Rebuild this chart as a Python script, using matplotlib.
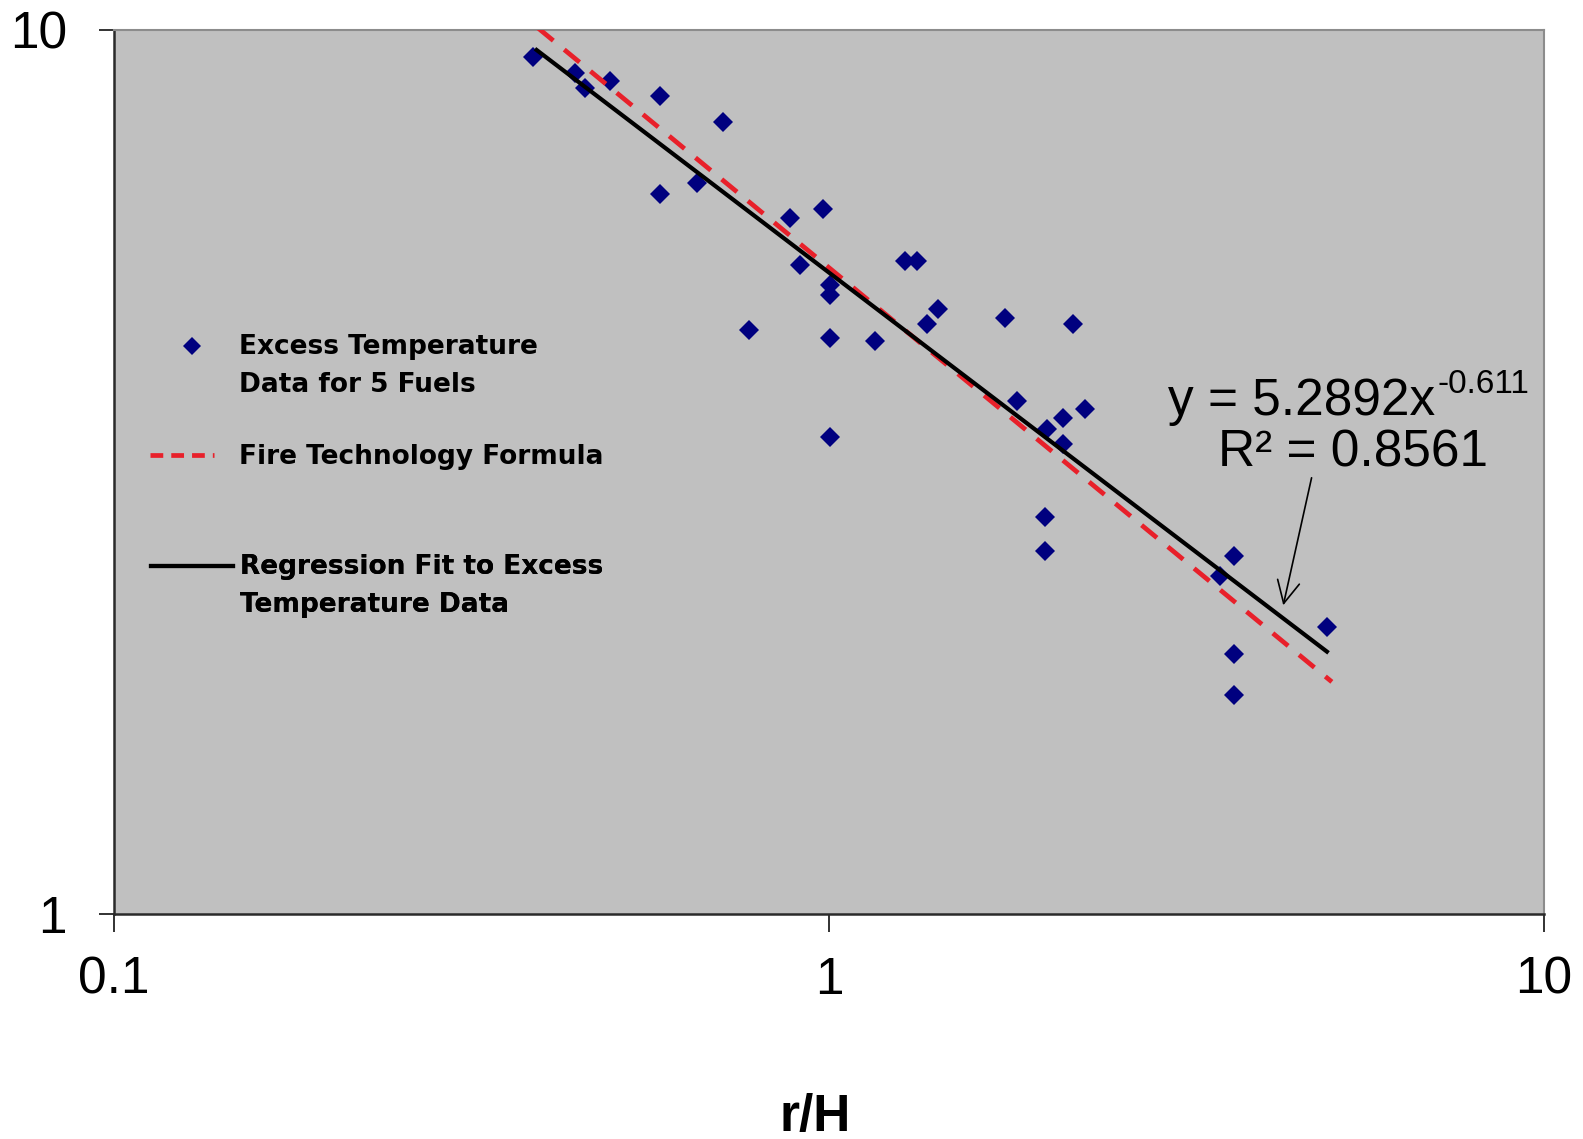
import matplotlib
matplotlib.use("Agg")
import numpy as np
import matplotlib.pyplot as plt
from matplotlib.ticker import NullLocator, FixedLocator, FixedFormatter
from matplotlib.lines import Line2D
from matplotlib.legend_handler import HandlerLine2D

# ---- data ----
data_x = [0.386, 0.441, 0.456, 0.494, 0.580, 0.710, 0.580, 0.654, 0.882, 0.980,
          0.911, 1.277, 1.326, 1.003, 1.003, 0.773, 1.003, 1.160, 1.421, 1.370,
          1.003, 1.763, 2.197, 1.830, 2.127, 2.280, 2.016, 2.127, 2.005, 2.005,
          3.68, 3.52, 4.97, 3.68, 3.68]
data_y = [9.32, 8.92, 8.58, 8.75, 8.41, 7.86, 6.52, 6.71, 6.12, 6.27,
          5.42, 5.47, 5.47, 5.14, 5.01, 4.57, 4.48, 4.44, 4.83, 4.65,
          3.46, 4.72, 4.65, 3.80, 3.64, 3.72, 3.53, 3.40, 2.81, 2.57,
          2.54, 2.41, 2.11, 1.97, 1.77]

fire_x = [0.36, 5.05]
fire_y = [10.62, 1.83]

reg_x = [0.39, 4.97]
reg_y = [9.48, 1.98]

x_ticks = [0.1, 1, 10]
x_tick_labels = ["0.1", "1", "10"]
y_ticks = [1, 10]
y_tick_labels = ["1", "10"]

label_data = "Excess Temperature\nData for 5 Fuels"
label_fire = "Fire Technology Formula"
label_reg = "Regression Fit to Excess\nTemperature Data"
eq_main = "y = 5.2892x"
eq_sup = "-0.611"
eq_r2 = "R\u00b2 = 0.8561"

plt.rcParams["font.family"] = ["Liberation Sans", "DejaVu Sans"]

fig = plt.figure(figsize=(15.83, 11.39), dpi=100)
fig.patch.set_facecolor("white")
ax = fig.add_axes([114 / 1583, 1 - 914 / 1139, 1430 / 1583, 884.5 / 1139])
ax.set_facecolor("#c0c0c0")
ax.set_xscale("log")
ax.set_yscale("log")
ax.set_xlim(0.1, 10)
ax.set_ylim(1, 10)

navy = "#00007f"
red = "#e8202a"

ax.plot(data_x, data_y, linestyle="none", marker="D", ms=10.3, mew=0,
        color=navy, zorder=3)
ax.plot(fire_x, fire_y, color=red, lw=3.4, dashes=(4.2, 3.0), zorder=4)
ax.plot(reg_x, reg_y, color="black", lw=3, zorder=5)

# ticks
ax.xaxis.set_major_locator(FixedLocator(x_ticks))
ax.xaxis.set_major_formatter(FixedFormatter(x_tick_labels))
ax.yaxis.set_major_locator(FixedLocator(y_ticks))
ax.yaxis.set_major_formatter(FixedFormatter(y_tick_labels))
ax.xaxis.set_minor_locator(NullLocator())
ax.yaxis.set_minor_locator(NullLocator())
ax.tick_params(axis="x", direction="out", length=13, width=1.3, color="#222222",
               labelsize=37, pad=17)
ax.tick_params(axis="y", direction="out", length=11, width=1.3, color="#222222",
               labelsize=37, pad=23)

for s in ("left", "bottom"):
    ax.spines[s].set_color("#2a2a2a")
    ax.spines[s].set_linewidth(1.8)
for s in ("top", "right"):
    ax.spines[s].set_color("#8c8c8c")
    ax.spines[s].set_linewidth(1.5)

# x label
ax.set_xlabel("r/H", fontsize=37, fontweight="bold")
ax.xaxis.set_label_coords((815 - 114) / 1430, -(1117 - 914) / 884.5)
ax.xaxis.label.set_va("center")


class ShiftedHandler(HandlerLine2D):
    def __init__(self, dy=0.0, **kw):
        super().__init__(**kw)
        self.dy = dy

    def create_artists(self, legend, orig_handle, xdescent, ydescent, width,
                       height, fontsize, trans):
        arts = super().create_artists(legend, orig_handle, xdescent, ydescent,
                                      width, height, fontsize, trans)
        for a in arts:
            a.set_ydata(np.asarray(a.get_ydata(), dtype=float) + self.dy)
        return arts


# legends (three separate entries)
lfont = dict(family="DejaVu Sans", weight="bold", size=19)
ax0 = 114.0
axw = 1430.0
axt = 29.5
axh = 884.5


def add_leg(handle, label, x_px, y_px, hl, hp, dy):
    leg = ax.legend([handle], [label], loc="center left",
                    bbox_to_anchor=((x_px - ax0) / axw, 1 - (y_px - axt) / axh),
                    frameon=False, prop=lfont, borderpad=0, borderaxespad=0,
                    handlelength=hl, handletextpad=hp, numpoints=1,
                    handler_map={handle: ShiftedHandler(dy=dy)})
    for t in leg.get_texts():
        t.set_linespacing(1.6)
    ax.add_artist(leg)
    return leg


h_data = Line2D([], [], linestyle="none", marker="D", ms=9.0, mew=0, color=navy)
h_fire = Line2D([], [], color=red, lw=3.4, dashes=(2.7, 1.7))
h_reg = Line2D([], [], color="black", lw=3)

add_leg(h_data, label_data, 150, 365.5, 3.2, 0.19, 14.5)
add_leg(h_fire, label_fire, 150, 457, 2.44, 0.95, 0.0)
add_leg(h_reg, label_reg, 151, 585.5, 3.1, 0.27, 14.5)

# equation annotation
t_main = ax.text(2.979, 3.665, eq_main, fontsize=37, ha="left", va="baseline",
                 color="black", zorder=6)
ax.annotate(eq_sup, xy=(1, 1), xycoords=t_main, xytext=(1.5, 6),
            textcoords="offset points", ha="left", va="top", fontsize=24,
            color="black", zorder=6)
ax.text(3.50, 3.205, eq_r2, fontsize=37, ha="left", va="baseline",
        color="black", zorder=6)
ax.annotate("", xy=(4.31, 2.218), xytext=(4.74, 3.135),
            arrowprops=dict(arrowstyle="->", color="black", lw=1.2,
                            mutation_scale=40), zorder=6)

fig.savefig("out.png", dpi=100)
